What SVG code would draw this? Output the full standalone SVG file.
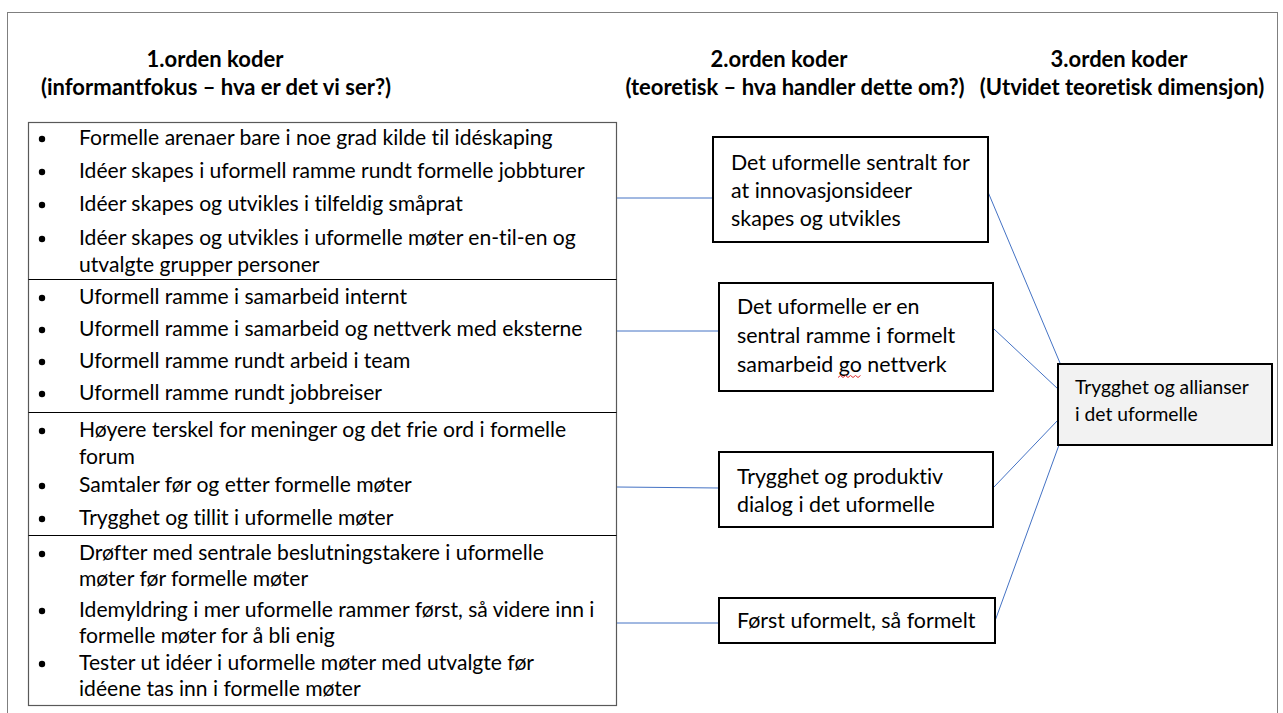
<svg xmlns="http://www.w3.org/2000/svg" width="1283" height="713" viewBox="0 0 1283 713">
  <style>
    text { font-family: Lato, "Open Sans", "Liberation Sans", sans-serif; fill: #000; font-variant-ligatures: none; }
    .hd { font-size: 22px; font-weight: bold; text-anchor: middle; }
    .tx { font-size: 21.1px; }
    .bx { font-size: 21.4px; }
    .sm { font-size: 19.3px; }
    .frame { fill: #fff; stroke: #7f7f7f; stroke-width: 1; }
    .tbl { fill: #fff; stroke: #595959; stroke-width: 1.2; }
    .sep { stroke: #000; stroke-width: 1; }
    .box { fill: #fff; stroke: #000; stroke-width: 2; }
    .gbox { fill: #f2f2f2; stroke: #000; stroke-width: 2; }
    .con { stroke: #4472c4; stroke-width: 1; fill: none; }
    .dot { fill: #000; }
  </style>

  <rect x="0" y="0" width="1283" height="713" fill="#fff"/>
  <!-- outer frame -->
  <rect class="frame" x="7.5" y="12.5" width="1270" height="720"/>

  <!-- column headings -->
  <g id="headings">
    <text class="hd" x="215" y="67">1.orden koder</text>
    <text class="hd" x="216" y="95">(informantfokus – hva er det vi ser?)</text>
    <text class="hd" x="779" y="67">2.orden koder</text>
    <text class="hd" x="795" y="95">(teoretisk – hva handler dette om?)</text>
    <text class="hd" x="1119" y="67">3.orden koder</text>
    <text class="hd" x="1122" y="95">(Utvidet teoretisk dimensjon)</text>
  </g>

  <!-- first-order codes table -->
  <g id="codes-table">
    <rect class="tbl" x="28.5" y="122.5" width="588" height="583"/>
    <line class="sep" x1="28.5" y1="279.5" x2="616.5" y2="279.5"/>
    <line class="sep" x1="28.5" y1="412.5" x2="616.5" y2="412.5"/>
    <line class="sep" x1="28.5" y1="535.5" x2="616.5" y2="535.5"/>
  </g>

  <g id="row-1">
    <circle class="dot" cx="42" cy="139" r="3.2"/>
    <text class="tx" x="79" y="145">Formelle arenaer bare i noe grad kilde til idéskaping</text>
    <circle class="dot" cx="42" cy="172" r="3.2"/>
    <text class="tx" x="79" y="178">Idéer skapes i uformell ramme rundt formelle jobbturer</text>
    <circle class="dot" cx="42" cy="205" r="3.2"/>
    <text class="tx" x="79" y="211">Idéer skapes og utvikles i tilfeldig småprat</text>
    <circle class="dot" cx="42" cy="239" r="3.2"/>
    <text class="tx" x="79" y="245">Idéer skapes og utvikles i uformelle møter en-til-en og</text>
    <text class="tx" x="79" y="272">utvalgte grupper personer</text>
  </g>

  <g id="row-2">
    <circle class="dot" cx="42" cy="298" r="3.2"/>
    <text class="tx" x="79" y="304">Uformell ramme i samarbeid internt</text>
    <circle class="dot" cx="42" cy="330" r="3.2"/>
    <text class="tx" x="79" y="336">Uformell ramme i samarbeid og nettverk med eksterne</text>
    <circle class="dot" cx="42" cy="362" r="3.2"/>
    <text class="tx" x="79" y="368">Uformell ramme rundt arbeid i team</text>
    <circle class="dot" cx="42" cy="394" r="3.2"/>
    <text class="tx" x="79" y="400">Uformell ramme rundt jobbreiser</text>
  </g>

  <g id="row-3">
    <circle class="dot" cx="42" cy="431" r="3.2"/>
    <text class="tx" x="79" y="437">Høyere terskel for meninger og det frie ord i formelle</text>
    <text class="tx" x="79" y="464">forum</text>
    <circle class="dot" cx="42" cy="486" r="3.2"/>
    <text class="tx" x="79" y="492">Samtaler før og etter formelle møter</text>
    <circle class="dot" cx="42" cy="519" r="3.2"/>
    <text class="tx" x="79" y="525">Trygghet og tillit i uformelle møter</text>
  </g>

  <g id="row-4">
    <circle class="dot" cx="42" cy="554" r="3.2"/>
    <text class="tx" x="79" y="560">Drøfter med sentrale beslutningstakere i uformelle</text>
    <text class="tx" x="79" y="586">møter før formelle møter</text>
    <circle class="dot" cx="42" cy="611" r="3.2"/>
    <text class="tx" x="79" y="617">Idemyldring i mer uformelle rammer først, så videre inn i</text>
    <text class="tx" x="79" y="643">formelle møter for å bli enig</text>
    <circle class="dot" cx="42" cy="664" r="3.2"/>
    <text class="tx" x="79" y="670">Tester ut idéer i uformelle møter med utvalgte før</text>
    <text class="tx" x="79" y="696">idéene tas inn i formelle møter</text>
  </g>

  <!-- connectors -->
  <g id="connectors">
    <line class="con" x1="617" y1="198" x2="713" y2="198"/>
    <line class="con" x1="617" y1="331" x2="719" y2="331"/>
    <line class="con" x1="617" y1="487" x2="719" y2="488"/>
    <line class="con" x1="617" y1="623" x2="719" y2="623"/>
    <line class="con" x1="988" y1="192" x2="1060" y2="363"/>
    <line class="con" x1="994" y1="329" x2="1058" y2="389"/>
    <line class="con" x1="994" y1="487" x2="1058" y2="420"/>
    <line class="con" x1="995" y1="621" x2="1059" y2="445"/>
  </g>

  <!-- second-order codes -->
  <g id="node-uformelle-sentralt">
    <rect class="box" x="713" y="137" width="275" height="105"/>
    <text class="bx" x="731" y="170">Det uformelle sentralt for</text>
    <text class="bx" x="731" y="198">at innovasjonsideer</text>
    <text class="bx" x="731" y="226">skapes og utvikles</text>
  </g>

  <g id="node-sentral-ramme">
    <rect class="box" x="719" y="283" width="274" height="108"/>
    <text class="bx" x="737" y="314">Det uformelle er en</text>
    <text class="bx" x="737" y="343">sentral ramme i formelt</text>
    <text class="bx" x="737" y="372">samarbeid go nettverk</text>
    <path d="M838 377.5 l2.5 -2 l2.5 2 l2.5 -2 l2.5 2 l2.5 -2 l2.5 2 l2.5 -2 l2.5 2 l2.5 -2" fill="none" stroke="#e03030" stroke-width="1"/>
  </g>

  <g id="node-produktiv-dialog">
    <rect class="box" x="719" y="452" width="274" height="75"/>
    <text class="bx" x="737" y="484">Trygghet og produktiv</text>
    <text class="bx" x="737" y="512">dialog i det uformelle</text>
  </g>

  <g id="node-forst-uformelt">
    <rect class="box" x="719" y="598" width="276" height="45"/>
    <text class="bx" x="737" y="628">Først uformelt, så formelt</text>
  </g>

  <!-- third-order code -->
  <g id="node-trygghet-allianser">
    <rect class="gbox" x="1058" y="364" width="214" height="81"/>
    <text class="sm" x="1075" y="394">Trygghet og allianser</text>
    <text class="sm" x="1075" y="421">i det uformelle</text>
  </g>
</svg>
